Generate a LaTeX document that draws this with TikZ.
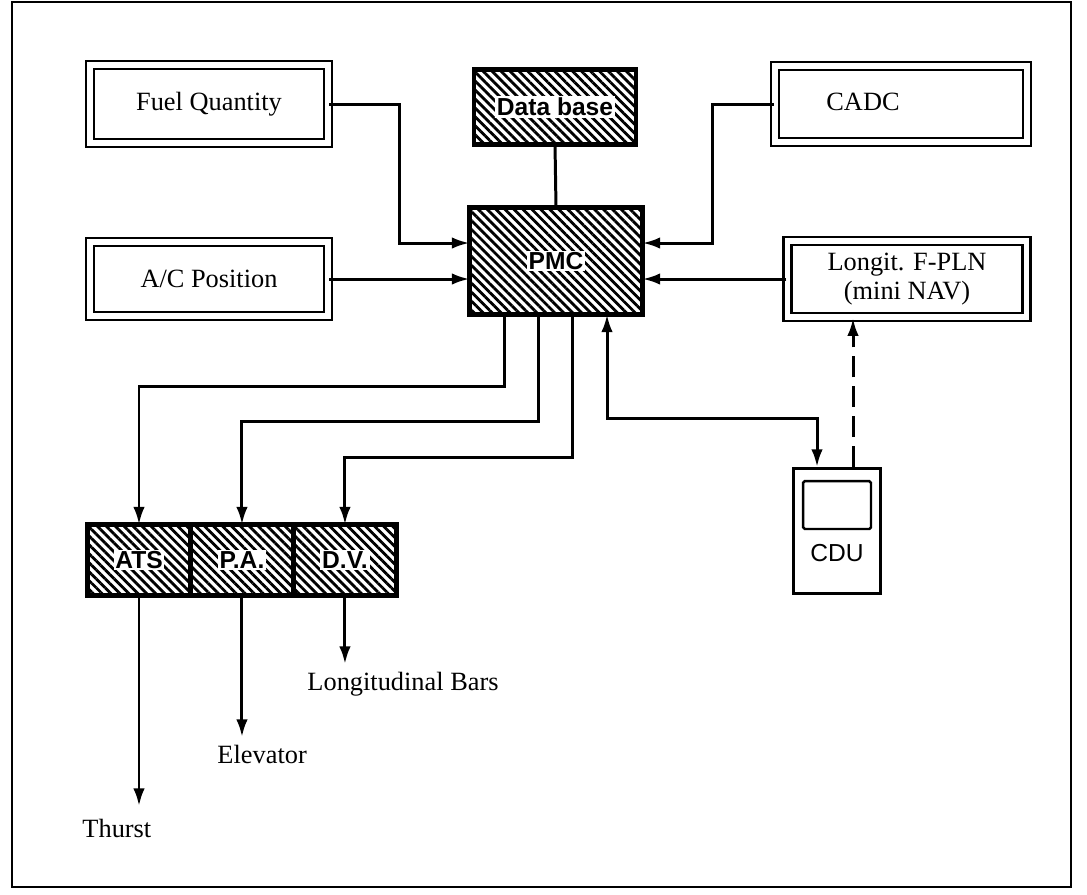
\documentclass[tikz,border=0pt]{standalone}
\usepackage{fontspec}
\setmainfont{Liberation Serif}
\setsansfont{Liberation Sans}
\usepackage{tikz}
\usetikzlibrary{positioning,arrows.meta,calc,patterns.meta}

\begin{document}
\begin{tikzpicture}[x=0.02cm,y=-0.02cm,
    line width=1.7pt,
    arr/.style={-{Latex[length=10pt,width=6.5pt]}},
    dblarr/.style={{Latex[length=10pt,width=6.5pt]}-{Latex[length=10pt,width=6.5pt]}},
    srcbox/.style={draw, line width=1.4pt, double, double distance=3pt,
      font=\fontsize{15}{17}\selectfont, align=center, inner sep=0pt},
    hatchbox/.style={draw, line width=2.8pt, inner sep=0pt, outer sep=0pt,
      pattern={Lines[angle=-45,distance=3.6pt,line width=1.6pt]}},
    tag/.style={fill=white, inner sep=1pt, font=\sffamily\bfseries\fontsize{14}{16}\selectfont},
    lbl/.style={font=\fontsize{15}{17}\selectfont, inner sep=0pt}]
  \useasboundingbox (0,0) rectangle (1087,894);
  \draw[line width=1.2pt] (12,2) rectangle (1071,887);

  % sources
  \node[srcbox, minimum width=4.76cm, minimum height=1.56cm] (fuel) at (209,104) {Fuel Quantity};
  \node[srcbox, minimum width=4.76cm, minimum height=1.48cm] (ac) at (209,279) {A/C Position};
  \node[srcbox, minimum width=5.04cm, minimum height=1.52cm] (cadc) at (901,104) {};
  \node[lbl] (cadctxt) at ($(cadc)+(-38,-2)$) {CADC};
  \node[srcbox, minimum width=4.78cm, minimum height=1.52cm] (longit) at (907,279) {Longit. F-PLN\\(mini NAV)};

  % hatched units
  \node[hatchbox, minimum width=3.24cm, minimum height=1.5cm] (db) at (555,107) {};
  \node[tag] at (db) {Data base};
  \node[hatchbox, minimum width=3.46cm, minimum height=2.14cm] (pmc) at (556,261) {};
  \node[tag] at (pmc) {PMC};
  \node[hatchbox, minimum width=2.06cm, minimum height=1.42cm] (ats) at (139,560) {};
  \node[hatchbox, minimum width=2.06cm, minimum height=1.42cm, right=0pt of ats] (pa) {};
  \node[hatchbox, minimum width=2.06cm, minimum height=1.42cm, right=0pt of pa] (dv) {};
  \node[tag] at (ats) {ATS};
  \node[tag] at (pa) {P.A.};
  \node[tag] at (dv) {D.V.};

  % CDU
  \node[draw, line width=1.8pt, minimum width=1.74cm, minimum height=2.5cm] (cdu) at (837,531) {};
  \node[draw, line width=1.4pt, rounded corners=1pt, minimum width=1.36cm, minimum height=0.96cm] (screen) at (837,505) {};
  \node[font=\sffamily\fontsize{14}{16}\selectfont, inner sep=0pt] (cdutxt) at (837,553) {CDU};

  % inputs to PMC
  \draw[arr] (fuel.east) -| ($(pmc.west)+(-70,-18)$) -- ($(pmc.west)+(0,-18)$);
  \draw[arr] (ac.east) -- (ac.east -| pmc.west);
  \draw[arr] (cadc.west) -| ($(pmc.east)+(70,-18)$) -- ($(pmc.east)+(0,-18)$);
  \draw[arr] (longit.west) -- (longit.west -| pmc.east);
  \draw (db.south) -- (pmc.north);

  % PMC outputs
  \draw[arr] ($(pmc.south)+(-52,0)$) -- ++(0,72) -| (ats.north);
  \draw[arr] ($(pmc.south)+(-18,0)$) -- ++(0,107) -| (pa.north);
  \draw[arr] ($(pmc.south)+(16,0)$) -- ++(0,143) -| (dv.north);
  \draw[dblarr] ($(pmc.south)+(51,0)$) -- ++(0,104) -| ($(cdu.north)+(-20,0)$);
  \coordinate (dashfoot) at ($(cdu.north)+(16,0)$);
  \draw[arr, dash pattern=on 12pt off 5pt] (dashfoot) -- (dashfoot |- longit.south);

  % outputs
  \node[lbl, anchor=west] (thurst) at (81,828) {Thurst};
  \node[lbl, anchor=west] (elev) at (216,754) {Elevator};
  \node[lbl, anchor=west] (bars) at (306,684) {Longitudinal Bars};
  \coordinate (thursttip) at (ats.south |- 0,806);
  \coordinate (elevtip) at (pa.south |- 0,737);
  \coordinate (barstip) at (dv.south |- 0,664);
  \draw[arr] (ats.south) -- (thursttip);
  \draw[arr] (pa.south) -- (elevtip);
  \draw[arr] (dv.south) -- (barstip);
\end{tikzpicture}
\end{document}
